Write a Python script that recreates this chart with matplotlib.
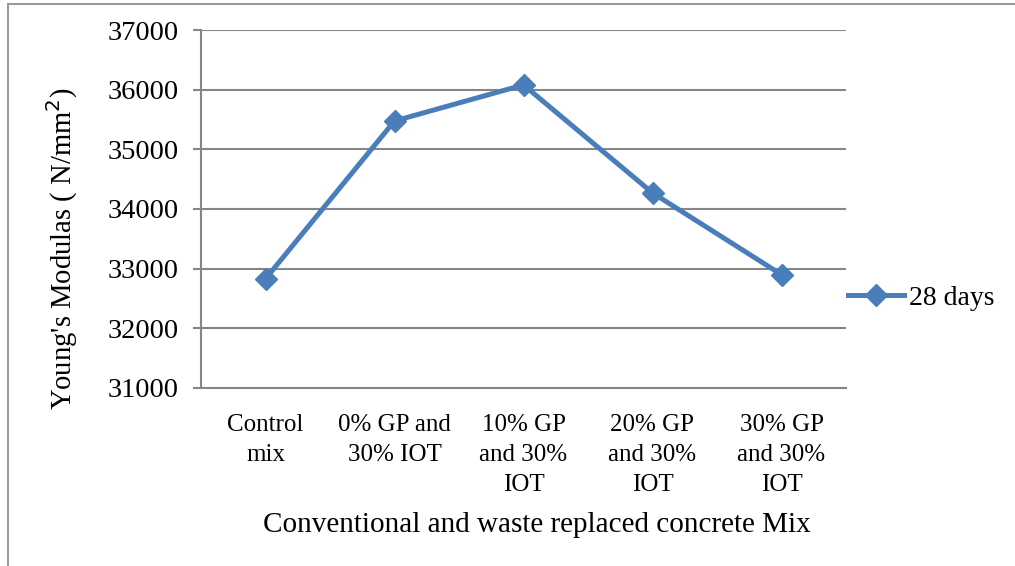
import matplotlib.pyplot as plt
from matplotlib.patches import Rectangle

# data
mixes = ['Control\nmix', '0% GP and\n30% IOT', '10% GP\nand 30%\nIOT',
         '20% GP\nand 30%\nIOT', '30% GP\nand 30%\nIOT']
modulus_28d = [32830, 35475, 36080, 34270, 32900]
y_ticks = [31000, 32000, 33000, 34000, 35000, 36000, 37000]

plt.rcParams['font.family'] = ['Liberation Serif', 'DejaVu Serif']

fig = plt.figure(figsize=(10.15, 5.66), dpi=100)
ax = fig.add_axes([201 / 1015, 1 - 388 / 566, 645 / 1015, 358 / 566])

# outer chart border (Excel style)
fig.patches.append(Rectangle((8 / 1015, -0.1), 1.2, 1 - 4 / 566 + 0.1,
                             transform=fig.transFigure, fill=False,
                             edgecolor='#9a9a9a', linewidth=1.5))

x = range(len(mixes))
ax.plot(x, modulus_28d, color='#4a7ebb', linewidth=3.6, marker='D',
        markersize=11, label='28 days')

ax.set_xlim(-0.5, len(mixes) - 0.5)
ax.set_ylim(31000, 37000)
ax.set_yticks(y_ticks)
ax.set_xticks(list(x))
ax.set_xticklabels(mixes, fontsize=18, linespacing=1.45)
ax.tick_params(axis='x', length=0, pad=19)
ax.tick_params(axis='y', labelsize=20.5, length=6, width=1.5,
               color='#868686', pad=10)

ax.grid(axis='y', color='#868686', linewidth=1.5)
ax.set_axisbelow(True)
for side in ['top', 'right']:
    ax.spines[side].set_visible(False)
for side in ['left', 'bottom']:
    ax.spines[side].set_color('#868686')
    ax.spines[side].set_linewidth(1.5)

ax.set_xlabel('Conventional and waste replaced concrete Mix', fontsize=21)
ax.xaxis.set_label_coords(0.521, -0.346)
ax.set_ylabel("Young's Modulas ( N/mm$^2$)", fontsize=20.6)
ax.yaxis.set_label_coords(-0.188, 0.388)

fig.legend(loc='center left', bbox_to_anchor=(848 / 1015, 1 - 298 / 566),
           frameon=False, fontsize=20, handlelength=2.0, handletextpad=0.2,
           borderpad=0, borderaxespad=0)

fig.savefig('out.png', dpi=100)
